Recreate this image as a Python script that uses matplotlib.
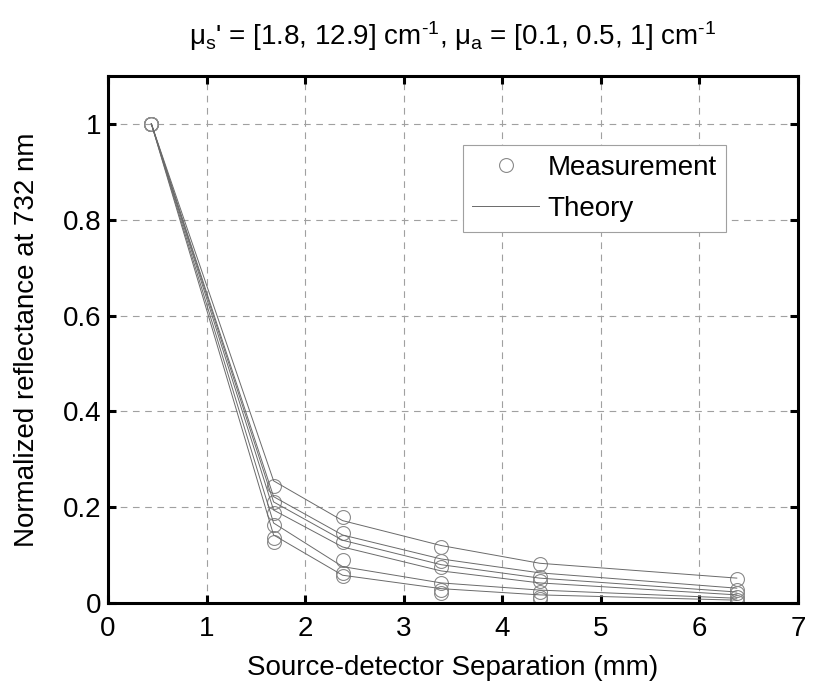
import matplotlib
matplotlib.use("Agg")
import matplotlib.pyplot as plt

plt.rcParams['font.family'] = ['Liberation Sans', 'DejaVu Sans']
plt.rcParams['mathtext.fontset'] = 'custom'
plt.rcParams['mathtext.rm'] = 'Liberation Sans'
plt.rcParams['mathtext.it'] = 'Liberation Sans'
plt.rcParams['mathtext.default'] = 'regular'

separation = [0.44, 1.68, 2.38, 3.38, 4.38, 6.38]
measurement = [
    [1, 0.245, 0.180, 0.117, 0.081, 0.050],
    [1, 0.211, 0.146, 0.088, 0.054, 0.027],
    [1, 0.188, 0.127, 0.075, 0.046, 0.021],
    [1, 0.163, 0.090, 0.042, 0.023, 0.013],
    [1, 0.136, 0.063, 0.027, 0.013, 0.006],
    [1, 0.128, 0.056, 0.021, 0.008, 0.002],
]
theory = [
    [1, 0.255, 0.172, 0.120, 0.083, 0.052],
    [1, 0.222, 0.142, 0.092, 0.063, 0.031],
    [1, 0.211, 0.131, 0.080, 0.052, 0.023],
    [1, 0.194, 0.117, 0.067, 0.042, 0.017],
    [1, 0.167, 0.076, 0.042, 0.027, 0.010],
    [1, 0.142, 0.058, 0.030, 0.017, 0.006],
]
xticks = [0, 1, 2, 3, 4, 5, 6, 7]
yticks = [0, 0.2, 0.4, 0.6, 0.8, 1]
ytick_labels = ['0', '0.2', '0.4', '0.6', '0.8', '1']

FS = 20
fig = plt.figure(figsize=(8.14, 6.82), dpi=100)
ax = fig.add_axes([0.1327, 0.1158, 0.8475, 0.7728])

for i, m in enumerate(measurement):
    ax.plot(separation, m, linestyle='none', marker='o', markersize=10,
            markerfacecolor='none', markeredgecolor='#8a8a8a', markeredgewidth=0.8,
            label='Measurement' if i == 0 else None)
for i, t in enumerate(theory):
    ax.plot(separation, t, color='#6a6a6a', linewidth=0.7,
            label='Theory' if i == 0 else None)

ax.set_xlim(0, 7)
ax.set_ylim(0, 1.1)
ax.set_xticks(xticks)
ax.set_yticks(yticks)
ax.set_yticklabels(ytick_labels)
ax.grid(True, linestyle=(0, (6, 5)), color='#a0a0a0', linewidth=0.8)
for s in ax.spines.values():
    s.set_linewidth(2.2)
    s.set_color('black')
ax.tick_params(direction='in', length=6, width=2.2, labelsize=FS, pad=5,
               top=True, right=True)
ax.tick_params(axis='x', pad=9)

ax.set_xlabel('Source-detector Separation (mm)', fontsize=FS, labelpad=10)
ax.set_ylabel('Normalized reflectance at 732 nm', fontsize=FS, labelpad=16)
ax.set_title(r"$\mu_s$' = [1.8, 12.9] cm$^{\text{-1}}$, $\mu_a$ = [0.1, 0.5, 1] cm$^{\text{-1}}$",
             fontsize=FS, pad=22)

leg = ax.legend(loc='upper left', bbox_to_anchor=(0.514, 0.869), fontsize=FS,
                frameon=True, fancybox=False, framealpha=1, edgecolor='#a0a0a0',
                handlelength=2.4, borderpad=0.35, labelspacing=0.55, handletextpad=0.3,
                borderaxespad=0)
leg.get_frame().set_linewidth(0.8)

fig.savefig('out.png', dpi=100)
